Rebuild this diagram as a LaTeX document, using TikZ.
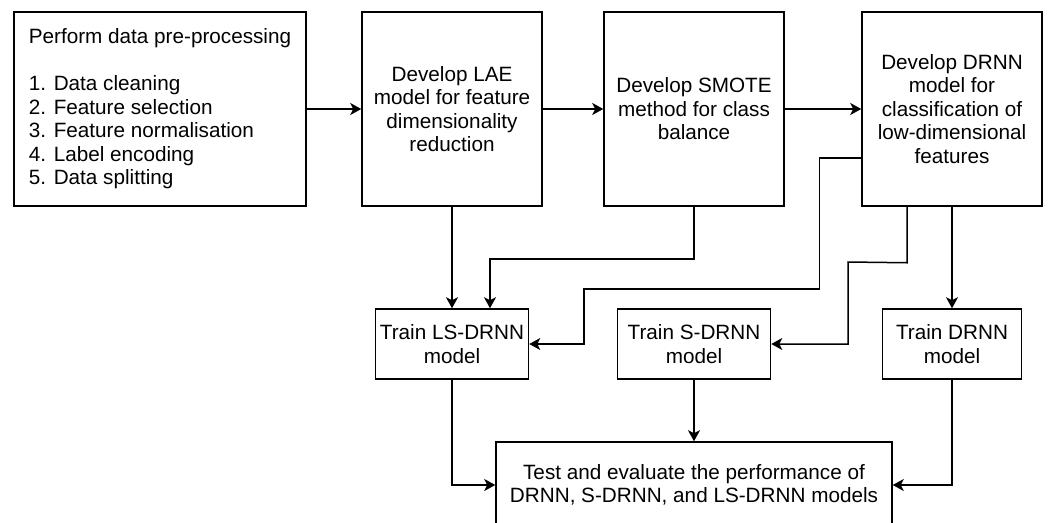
\documentclass[tikz,border=0pt]{standalone}
\usepackage{fontspec}
\setmainfont{Liberation Sans}
\usetikzlibrary{arrows.meta,calc}

\begin{document}
\begin{tikzpicture}[x=1pt,y=-1pt,
  box/.style={draw,line width=1.5pt,inner sep=0pt,align=center,
    font=\fontsize{20.7}{23.5}\selectfont},
  flow/.style={line width=1.5pt,-{Stealth[length=11pt,width=12pt,inset=3pt]}}]

\useasboundingbox (0,0) rectangle (1048,522);
\clip (0,0) rectangle (1048,522);

\pgfmathsetmacro{\topw}{180}
\pgfmathsetmacro{\toph}{194}
\pgfmathsetmacro{\trainh}{70}

% top row
\node[box,align=left,minimum width=292pt,minimum height=\toph pt] (prep) at (160,109)
  {Perform data pre-processing\\[23.5pt]1. Data cleaning\\2. Feature selection\\3. Feature normalisation\\4. Label encoding\\5. Data splitting};
\node[box,minimum width=\topw pt,minimum height=\toph pt] (lae) at (452,109)
  {Develop LAE\\model for feature\\dimensionality\\reduction};
\node[box,minimum width=\topw pt,minimum height=\toph pt] (smote) at (694,109)
  {Develop SMOTE\\method for class\\balance};
\node[box,minimum width=\topw pt,minimum height=\toph pt] (drnn) at (952,109)
  {Develop DRNN\\model for\\classification of\\low-dimensional\\features};

% training row
\node[box,minimum width=153pt,minimum height=\trainh pt] (lstrain) at (452,344) {Train LS-DRNN\\model};
\node[box,minimum width=153pt,minimum height=\trainh pt] (strain) at (694,344) {Train S-DRNN\\model};
\node[box,minimum width=139pt,minimum height=\trainh pt] (dtrain) at (952,344) {Train DRNN\\model};

% evaluation
\node[box,minimum width=396pt,minimum height=86pt] (test) at (694,485)
  {Test and evaluate the performance of\\DRNN, S-DRNN, and LS-DRNN models};

\draw[flow] (prep.east) -- (prep.east -| lae.west);
\draw[flow] (lae.east) -- (lae.east -| smote.west);
\draw[flow] (smote.east) -- (smote.east -| drnn.west);

\draw[flow] (lae.south) -- (lae.south |- lstrain.north);
\draw[flow] (smote.south) -- ++(0,52) -| ([xshift=38pt]lstrain.north);
\draw[flow] ([yshift=-49pt]drnn.west) -- ++(-42,0) -- ++(0,131) -- (584,289) |- (lstrain.east);
\draw[flow] ([xshift=-45pt]drnn.south) -- ++(0,56) -- (848,262) |- (strain.east);
\draw[flow] (drnn.south) -- (drnn.south |- dtrain.north);

\draw[flow] (lstrain.south) |- (test.west);
\draw[flow] (strain.south) -- (strain.south |- test.north);
\draw[flow] (dtrain.south) |- (test.east);

\end{tikzpicture}
\end{document}
